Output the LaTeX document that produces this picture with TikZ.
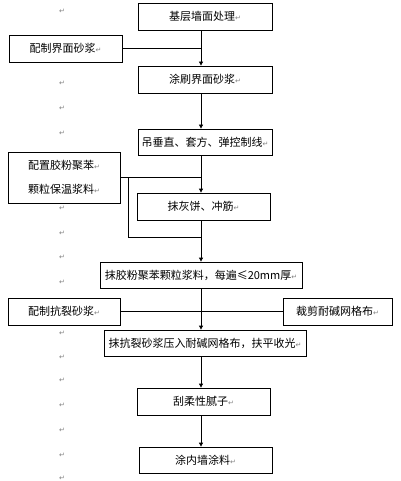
\documentclass[tikz,border=0pt]{standalone}
\usepackage{fontspec}
\setmainfont{Noto Sans CJK SC}
\newfontfamily\djv{DejaVu Sans}
\usetikzlibrary{arrows.meta}
\newcommand{\rt}{{\djv\fontsize{7}{7}\selectfont\color{gray}↵}}
\tikzset{
  box/.style={draw, line width=0.8pt, inner sep=0pt, align=center, font=\fontsize{11}{24}\selectfont},
  arr/.style={line width=0.8pt, -{Triangle[length=4pt,width=4pt]}},
  ln/.style={line width=0.8pt},
  pm/.style={inner sep=0pt, font=\djv\fontsize{7}{7}\selectfont, text=gray}
}
\begin{document}
\begin{tikzpicture}[x=1pt,y=-1pt]
\useasboundingbox (0,0) rectangle (400,481);
\coordinate (spine) at (201,0);
\node[box, minimum width=134pt, minimum height=27pt] (b1) at (205,16.5) {基层墙面处理\rt};
\node[box, minimum width=113pt, minimum height=27pt] (l1) at (65.5,48.5) {配制界面砂浆\rt};
\node[box, minimum width=134pt, minimum height=27pt] (b2) at (205,79.5) {涂刷界面砂浆\rt};
\node[box, minimum width=134pt, minimum height=26pt] (b3) at (205,142) {吊垂直、套方、弹控制线\rt};
\node[box, minimum width=112pt, minimum height=51pt] (l2) at (64,177.5) {配置胶粉聚苯\rt\\颗粒保温浆料\rt};
\node[box, minimum width=133pt, minimum height=27pt] (b4) at (203.5,206.5) {抹灰饼、冲筋\rt};
\node[box, minimum width=202pt, minimum height=26pt] (b5) at (201,275) {抹胶粉聚苯颗粒浆料，每遍≤20mm厚\rt};
\node[box, minimum width=112pt, minimum height=27pt] (l3) at (64,311.5) {配制抗裂砂浆\rt};
\node[box, minimum width=109pt, minimum height=27pt] (r3) at (337.5,311.5) {裁剪耐碱网格布\rt};
\node[box, minimum width=202pt, minimum height=26pt] (b6) at (205,343) {抹抗裂砂浆压入耐碱网格布，扶平收光\rt};
\node[box, minimum width=133pt, minimum height=27pt] (b7) at (203.5,401.5) {刮柔性腻子\rt};
\node[box, minimum width=133pt, minimum height=26pt] (b8) at (205.5,460) {涂内墙涂料\rt};

\draw[arr] (b1.south -| spine) -- (b2.north -| spine);
\draw[ln] (l1.east) -- (l1.east -| spine);
\draw[arr] (b2.south -| spine) -- (b3.north -| spine);
\draw[arr] (b3.south -| spine) -- (b4.north -| spine);
\draw[ln] (l2.east) -- (l2.east -| spine);
\coordinate (j) at (128,237);
\draw[ln] (l2.east -| j) -- (j) -- (j -| spine);
\draw[arr] (b4.south -| spine) -- (b5.north -| spine);
\draw[arr] (b5.south -| spine) -- (b6.north -| spine);
\draw[ln] (l3.east) -- (r3.west);
\draw[arr] (b6.south -| spine) -- (b7.north -| spine);
\draw[arr] (b7.south -| spine) -- (b8.north -| spine);

\foreach \yy [count=\i] in {11,83,108,133,208,233,257,282,333,357,380,405,430,455,478}
  \node[pm] (p\i) at (62,\yy) {↵};
\end{tikzpicture}
\end{document}
